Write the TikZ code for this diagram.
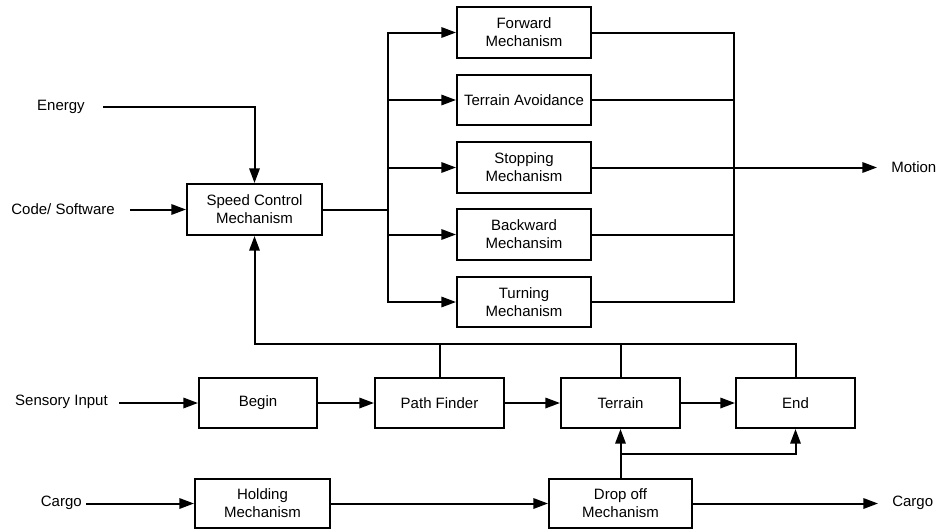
\documentclass[tikz,border=0pt]{standalone}
\usepackage{fontspec}
\setmainfont{Liberation Sans}
\usetikzlibrary{arrows.meta}
\begin{document}
\begin{tikzpicture}[x=0.75pt,y=-0.75pt,
  font=\fontsize{11.25pt}{13.5pt}\selectfont,
  box/.style={draw,line width=1.5pt,rectangle,inner sep=0pt,align=center},
  lbl/.style={inner sep=0pt},
  wire/.style={line width=1.5pt},
  arr/.style={wire,-{Triangle[length=11pt,width=7.8pt]}}]
\useasboundingbox (0,0) rectangle (938,529);
% boxes
\node[box,minimum width=101.25pt,minimum height=38.25pt] (speed) at (254.5,209.5) {Speed Control\\Mechanism};
\node[box,minimum width=100.5pt,minimum height=38.25pt] (fwd) at (524,32.5) {Forward\\Mechanism};
\node[box,minimum width=100.5pt,minimum height=37.5pt] (ta) at (524,100) {Terrain Avoidance};
\node[box,minimum width=100.5pt,minimum height=38.25pt] (stop) at (524,167.5) {Stopping\\Mechanism};
\node[box,minimum width=100.5pt,minimum height=38.25pt] (back) at (524,234.5) {Backward\\Mechansim};
\node[box,minimum width=100.5pt,minimum height=37.5pt] (turn) at (524,302) {Turning\\Mechanism};
\node[box,minimum width=88.5pt,minimum height=37.5pt] (begin) at (258,403) {Begin};
\node[box,minimum width=96.75pt,minimum height=37.5pt] (path) at (439.5,403) {Path Finder};
\node[box,minimum width=89.25pt,minimum height=37.5pt] (terrain) at (620.5,403) {Terrain};
\node[box,minimum width=89.25pt,minimum height=37.5pt] (end) at (795.5,403) {End};
\node[box,minimum width=101.25pt,minimum height=36.75pt] (hold) at (262.5,503.5) {Holding\\Mechanism};
\node[box,minimum width=107.25pt,minimum height=36.75pt] (drop) at (620.5,503.5) {Drop off\\Mechanism};
% labels
\node[lbl,anchor=east] (energy) at (85,107) {Energy};
\node[lbl,anchor=east] (code) at (115,209) {Code/ Software};
\node[lbl,anchor=east] (sens) at (108,402) {Sensory Input};
\node[lbl,anchor=east] (cargoin) at (82,503) {Cargo};
\node[lbl,anchor=west] (motion) at (891,167) {Motion};
\node[lbl,anchor=west] (cargoout) at (892,503) {Cargo};
% coordinates
\coordinate (eIn) at (103,107);
\coordinate (cIn) at (130,209.5);
\coordinate (busL) at (388,209.5);
\coordinate (busR) at (734,167.5);
\coordinate (mOut) at (877,167.5);
\coordinate (fb) at (254.5,344);
\coordinate (sIn) at (119,403);
\coordinate (cgIn) at (86,503.5);
\coordinate (br) at (620.5,454);
\coordinate (cgOut) at (878,503.5);
% connectors top
\draw[arr] (eIn) -| (speed.north);
\draw[arr] (cIn) -- (speed.west);
\draw[wire] (speed.east) -- (busL);
\draw[arr] (busL) |- (fwd.west);
\draw[arr] (busL) |- (ta.west);
\draw[arr] (busL) |- (stop.west);
\draw[arr] (busL) |- (back.west);
\draw[arr] (busL) |- (turn.west);
\draw[wire] (fwd.east) -| (busR);
\draw[wire] (turn.east) -| (busR);
\draw[wire] (ta.east) -- (ta.east -| busR);
\draw[wire] (back.east) -- (back.east -| busR);
\draw[wire] (stop.east) -- (busR);
\draw[arr] (busR) -- (mOut);
% feedback
\draw[arr] (end.north) |- (fb) -- (speed.south);
\draw[wire] (path.north) -- (path.north |- fb);
\draw[wire] (terrain.north) -- (terrain.north |- fb);
% middle row
\draw[arr] (sIn) -- (begin.west);
\draw[arr] (begin.east) -- (path.west);
\draw[arr] (path.east) -- (terrain.west);
\draw[arr] (terrain.east) -- (end.west);
% bottom row
\draw[arr] (cgIn) -- (hold.west);
\draw[arr] (hold.east) -- (drop.west);
\draw[arr] (drop.north) -- (terrain.south);
\draw[arr] (br) -| (end.south);
\draw[arr] (drop.east) -- (cgOut);
\end{tikzpicture}
\end{document}
